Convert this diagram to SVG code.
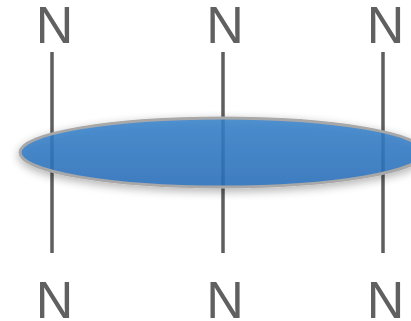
<svg xmlns="http://www.w3.org/2000/svg" width="411" height="321" viewBox="0 0 411 321">
<style>
.lbl{font-family:"Liberation Sans",Arial,sans-serif;font-size:52px;fill:#606060;text-anchor:middle}
.ln{stroke:#5e5e5e;stroke-width:3.5;fill:none}
</style>
<defs>
<linearGradient id="g" x1="0" y1="0" x2="0" y2="1">
<stop offset="0" stop-color="#3682cb"/>
<stop offset="1" stop-color="#2a70bc"/>
</linearGradient>
<filter id="sh" x="-20%" y="-50%" width="140%" height="200%">
<feGaussianBlur in="SourceAlpha" stdDeviation="5"/>
<feOffset dy="3" result="b"/>
<feComponentTransfer><feFuncA type="linear" slope="0.35"/></feComponentTransfer>
<feMerge><feMergeNode/><feMergeNode in="SourceGraphic"/></feMerge>
</filter>
</defs>
<g id="connectors">
<line class="ln" x1="52" y1="52" x2="52" y2="253"/>
<line class="ln" x1="223" y1="52" x2="223" y2="253"/>
<line class="ln" x1="383" y1="52" x2="383" y2="253"/>
</g>
<g id="ellipse">
<ellipse cx="222" cy="152.5" rx="202" ry="34.5" fill="url(#g)" fill-opacity="0.85" stroke="#a8a8a8" stroke-width="3" filter="url(#sh)"/>
</g>
<g id="n-top-1"><text class="lbl" x="54.5" y="43">N</text></g>
<g id="n-top-2"><text class="lbl" x="225" y="43">N</text></g>
<g id="n-top-3"><text class="lbl" x="385.5" y="43">N</text></g>
<g id="n-bot-1"><text class="lbl" x="54.5" y="318">N</text></g>
<g id="n-bot-2"><text class="lbl" x="225" y="318">N</text></g>
<g id="n-bot-3"><text class="lbl" x="385.5" y="318">N</text></g>
</svg>
